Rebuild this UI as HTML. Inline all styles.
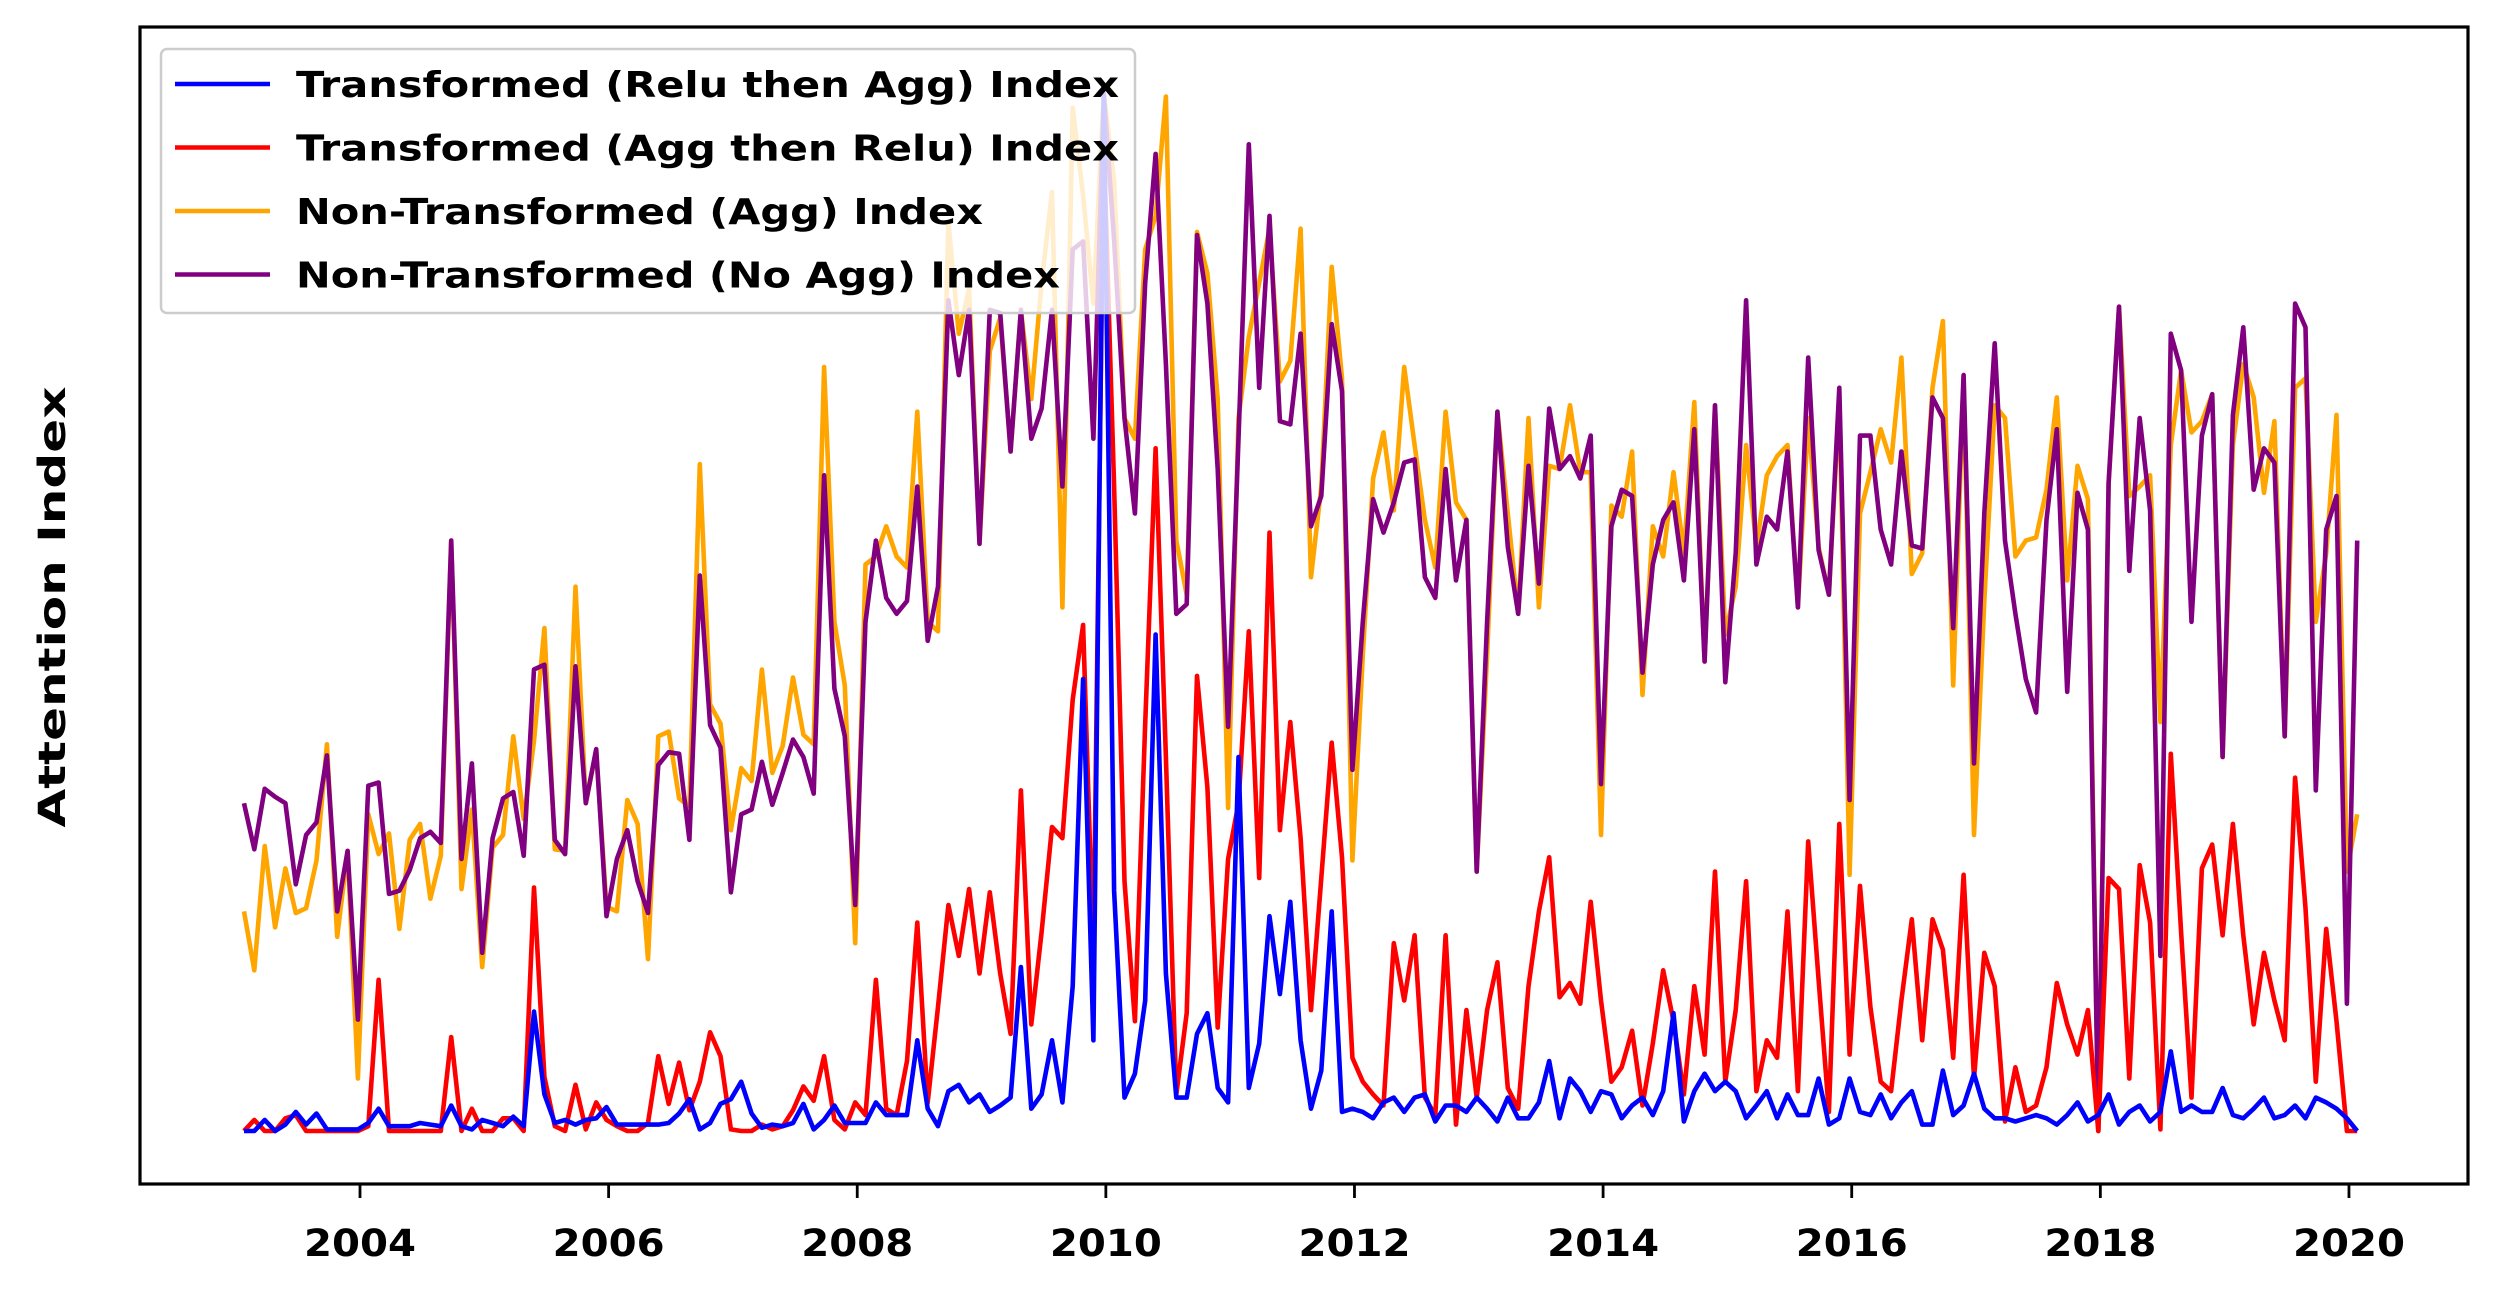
<!DOCTYPE html>
<html><head><meta charset="utf-8"><style>
html,body{margin:0;padding:0;background:#fff;}
svg{display:block;font-family:"DejaVu Sans","Liberation Sans",sans-serif;}
</style></head><body>
<svg id="chart" width="2495" height="1298" viewBox="0 0 2495 1298" xmlns="http://www.w3.org/2000/svg">
<rect x="0" y="0" width="2495" height="1298" fill="#fff"/>
<g id="plot"></g>
<rect x="140" y="27" width="2328" height="1157" fill="none" stroke="#000" stroke-width="3.2"/>
<g id="xaxis"></g>
<text x="0" y="0" transform="translate(65,607) rotate(-90)" text-anchor="middle" font-size="37" font-weight="bold" textLength="441" lengthAdjust="spacingAndGlyphs">Attention Index</text>
<g id="legend"></g>
</svg>
<script>
const startYear = 2003;
const startMonthOffset = 0.8;
const tickYears = [2004, 2006, 2008, 2010, 2012, 2014, 2016, 2018, 2020];
const seriesNames = ["Transformed (Relu then Agg) Index","Transformed (Agg then Relu) Index","Non-Transformed (Agg) Index","Non-Transformed (No Agg) Index"];
const legendWidths = [823, 823, 687, 764];
const seriesColors = ["#0000ff","#ff0000","#ffa500","#800080"];
const blueValues = [0,0,7,0,4,12,4,11,1,1,1,1,5,14,3,3,3,5,4,3,16,3,1,7,5,3,9,3,75,23,5,7,4,7,8,15,4,4,4,4,4,5,11,20,1,5,17,20,31,11,2,4,3,5,17,1,7,16,5,
5,5,18,10,10,10,57,14,3,25,29,18,23,12,16,21,103,14,23,57,18,91,284,57,652,151,21,36,82,312,99,21,21,61,74,27,18,235,27,55,135,86,144,57,14,38,138,
12,14,12,8,18,21,12,21,23,6,16,16,12,21,14,6,21,8,8,18,44,8,33,25,12,25,23,8,16,21,10,25,74,6,25,36,25,31,25,8,16,25,8,23,10,10,33,4,8,33,12,10,23,
8,18,25,4,4,38,10,16,36,14,8,8,6,8,10,8,4,10,18,6,10,23,4,12,16,6,12,50,12,16,12,12,27,10,8,14,21,8,10,16,8,21,18,14,8,0];
const redValues = [0,7,0,0,8,10,0,0,0,0,0,0,3,95,0,0,0,0,0,0,59,0,14,0,0,8,8,0,153,34,3,0,29,1,18,7,3,0,0,5,47,17,43,13,31,62,47,1,0,0,4,1,3,13,28,19,47,7,1,
18,10,95,14,10,44,131,18,78,142,110,152,99,150,99,61,214,67,125,191,184,271,318,110,620,405,157,69,256,429,235,23,74,286,216,65,171,206,314,159,376,189,257,184,76,159,244,
172,46,31,23,16,118,82,123,21,10,123,4,76,21,76,106,27,14,91,138,172,84,93,80,144,82,31,40,63,16,55,101,69,23,91,48,163,31,76,157,25,57,46,138,25,182,95,12,193,48,154,78,31,
25,82,133,57,133,114,46,161,33,112,91,6,40,12,16,40,93,67,48,76,0,159,152,33,167,131,1,237,125,21,165,180,123,193,123,67,112,82,57,222,140,31,127,69,0,0];
const orangeValues = [138,101,179,128,165,137,140,170,243,122,176,33,199,174,187,127,183,193,146,173,371,152,202,103,178,186,248,196,245,316,177,176,342,206,239,141,138,208,193,108,248,251,209,204,419,268,256,189,228,220,290,225,242,285,249,243,480,320,280,
118,356,361,380,361,354,452,320,314,571,501,529,369,490,511,427,516,460,533,590,329,643,588,520,652,597,448,435,554,575,650,371,337,565,539,460,203,448,499,533,567,471,484,567,348,405,543,
473,170,299,410,439,390,480,431,384,354,452,395,384,163,299,452,388,325,448,329,418,416,456,414,414,186,393,386,427,274,380,361,414,363,458,295,456,312,342,431,367,412,424,431,329,448,367,337,460,161,388,414,441,
420,486,350,363,467,509,280,473,186,333,456,448,361,371,373,403,461,346,418,397,0,407,518,399,405,412,257,431,478,439,446,463,235,431,482,461,401,446,248,467,473,320,363,450,163,199];
const purpleValues = [206,177,215,210,206,155,186,194,236,138,176,70,217,219,149,151,164,184,188,181,371,171,231,112,184,209,213,173,290,293,183,174,292,206,240,135,171,189,157,137,230,238,237,183,349,255,241,150,199,202,232,205,225,246,235,212,412,278,248,
142,320,371,335,325,333,405,308,342,522,475,516,369,516,514,427,516,435,454,516,405,554,559,435,652,560,448,388,533,614,482,325,331,563,520,416,254,435,620,467,575,446,444,501,380,399,507,
465,227,320,397,376,395,420,422,348,335,416,346,384,163,320,452,367,325,418,344,454,416,424,410,437,218,380,403,399,288,356,384,395,346,441,295,456,282,363,522,356,386,378,427,329,486,365,337,467,208,437,437,378,
356,427,368,366,461,448,316,475,231,388,495,371,325,284,263,384,441,276,401,378,0,407,518,352,448,390,110,501,478,320,437,463,235,450,505,403,429,420,248,520,505,214,378,399,80,371];

const NS="http://www.w3.org/2000/svg";
function xScale(year){ return 360 + (year-2004)*124.31; }
function yScale(v){ return 1131 - v*1.5914; }
function dateOf(i){ return startYear + (i+startMonthOffset)/12; }
const plot=document.getElementById('plot');
const allSeries=[blueValues,redValues,orangeValues,purpleValues];
const drawOrder=[2,3,1,0];
const seriesKeys=['relu-then-agg','agg-then-relu','non-transformed-agg','non-transformed-no-agg'];
drawOrder.forEach(function(s){
  const vals=allSeries[s];
  const pts=vals.map(function(v,i){return xScale(dateOf(i)).toFixed(1)+','+yScale(v).toFixed(1);}).join(' ');
  const pl=document.createElementNS(NS,'polyline');
  pl.setAttribute('points',pts);
  pl.setAttribute('fill','none');
  pl.setAttribute('stroke',seriesColors[s]);
  pl.setAttribute('stroke-width','4.6');
  pl.setAttribute('stroke-linejoin','round');
  
  
  plot.appendChild(pl);
});
const xa=document.getElementById('xaxis');
tickYears.forEach(function(y){
  const x=xScale(y);
  const t=document.createElementNS(NS,'line');
  t.setAttribute('x1',x);t.setAttribute('x2',x);t.setAttribute('y1',1184);t.setAttribute('y2',1198);
  t.setAttribute('stroke','#000');t.setAttribute('stroke-width','2.8');
  
  
  xa.appendChild(t);
  const l=document.createElementNS(NS,'text');
  l.setAttribute('x',x);l.setAttribute('y',1256);
  l.setAttribute('text-anchor','middle');l.setAttribute('font-size','37');l.setAttribute('font-weight','bold');
  l.setAttribute('textLength','112');l.setAttribute('lengthAdjust','spacingAndGlyphs');
  l.textContent=String(y);
  
  
  xa.appendChild(l);
});
const lg=document.getElementById('legend');
const box=document.createElementNS(NS,'rect');
box.setAttribute('x',161);box.setAttribute('y',49);box.setAttribute('width',974);box.setAttribute('height',264);
box.setAttribute('rx',6);box.setAttribute('fill','#fff');box.setAttribute('fill-opacity','0.8');
box.setAttribute('stroke','#ccc');box.setAttribute('stroke-width','2.5');


lg.appendChild(box);
seriesNames.forEach(function(n,i){
  const y=84+i*63.5;
  const ln=document.createElementNS(NS,'line');
  ln.setAttribute('x1',175);ln.setAttribute('x2',270);ln.setAttribute('y1',y);ln.setAttribute('y2',y);
  ln.setAttribute('stroke',seriesColors[i]);ln.setAttribute('stroke-width','4.5');
  
  
  lg.appendChild(ln);
  const tx=document.createElementNS(NS,'text');
  tx.setAttribute('x',296);tx.setAttribute('y',y+13);
  tx.setAttribute('font-size','36');tx.setAttribute('font-weight','bold');
  tx.setAttribute('textLength',legendWidths[i]);tx.setAttribute('lengthAdjust','spacingAndGlyphs');
  tx.textContent=n;
  
  
  lg.appendChild(tx);
});
</script>
</body></html>
